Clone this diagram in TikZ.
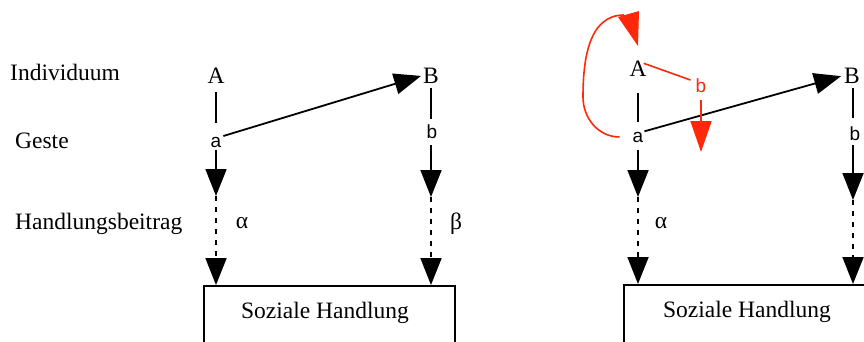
\documentclass[tikz,border=0pt]{standalone}
\usepackage{fontspec}
\setmainfont{Liberation Serif}
\newfontfamily\sansf{Liberation Sans}
\usetikzlibrary{arrows.meta}
\definecolor{redline}{RGB}{255,40,10}
\tikzset{
  lbl/.style={font=\fontsize{23.5}{27}\selectfont, inner sep=0pt, anchor=base},
  sml/.style={font=\sansf\fontsize{19}{22}\selectfont, inner sep=0pt, anchor=base},
  ln/.style={line width=1.8pt},
  arr/.style={line width=1.8pt, -{Triangle[length=27pt,width=21pt]}},
  dsh/.style={dash pattern=on 5pt off 6pt},
  redl/.style={line width=1.6pt, draw=redline},
  redarr/.style={line width=1.6pt, draw=redline, -{Triangle[length=31pt,width=21pt,fill=redline]}},
  boxst/.style={draw, line width=1.6pt, inner sep=0pt, anchor=north west}
}
\begin{document}
\begin{tikzpicture}[x=1pt,y=-1pt]
\useasboundingbox (0,0) rectangle (864,341);
\clip (0,0) rectangle (864,341);
% row labels
\node[lbl, anchor=base west] (ind) at (10,80) {Individuum};
\node[lbl, anchor=base west] (ges) at (15,148) {Geste};
\node[lbl, anchor=base west] (hb) at (15,229) {Handlungsbeitrag};
% ---------- left panel ----------
\node[lbl] (A1) at (216,83) {A};
\node[lbl] (B1) at (431,83) {B};
\node[sml] (a1) at (216,147) {a};
\node[sml] (b1) at (432,138) {b};
\node[lbl] (al1) at (242,228) {α};
\node[lbl] (be1) at (456,229) {β};
\node[boxst, minimum width=251pt, minimum height=90pt] (box1) at (203,285) {};
\node[lbl] (sh1) at (325,318) {Soziale Handlung};
\coordinate (h1) at (216,196);
\coordinate (h2) at (431,197);
\draw[ln, shorten <=9pt, shorten >=14pt] (A1.south) -- (a1.north);
\draw[arr, shorten <=3pt] (a1.south) -- (h1);
\draw[arr, dsh] (h1) -- (h1 |- box1.north);
\draw[arr, shorten <=2pt, shorten >=2pt] (a1.north east) -- (B1.west);
\draw[ln, shorten <=5pt, shorten >=5pt] (B1.south -| h2) -- (b1.north -| h2);
\draw[arr, shorten <=7pt] (b1.south -| h2) -- (h2);
\draw[arr, dsh] (h2) -- (h2 |- box1.north);
% ---------- right panel ----------
\node[lbl] (A2) at (638,76) {A};
\node[lbl] (B2) at (852,83) {B};
\node[sml] (a2) at (638,142) {a};
\node[sml] (b2) at (855,140) {b};
\node[lbl] (al2) at (661,228) {α};
\node[lbl] (be2) at (871,229) {β};
\node[boxst, minimum width=300pt, minimum height=90pt] (box2) at (623,284) {};
\node[lbl] (sh2) at (747,317) {Soziale Handlung};
\coordinate (h3) at (638,197);
\coordinate (h4) at (853,200);
\draw[ln, shorten <=17pt, shorten >=10pt] (A2.south) -- (a2.north);
\draw[arr, shorten <=8pt] (a2.south) -- (h3);
\draw[arr, dsh] (h3) -- (h3 |- box2.north);
\draw[arr, shorten <=1pt, shorten >=3pt] (a2.north east) -- (B2.west);
\draw[ln, shorten <=5pt, shorten >=8pt] (B2.south -| h4) -- (b2.north -| h4);
\draw[arr, shorten <=5pt] (b2.south -| h4) -- (h4);
\draw[arr, dsh] (h4) -- (h4 |- box2.north);
% red additions
\node[sml, text=redline] (rb) at (701,92) {b};
\coordinate (rh) at (701,152);
\coordinate (rt) at (638,46);
\coordinate (rl) at (583,97);
\coordinate (rtop) at (624,15);
\draw[redl] (A2.north east) ++(-3,3) -- ([xshift=-5pt,yshift=-2pt]rb.north west);
\draw[redarr, shorten <=8pt] (rb.south) -- (rh);
\draw[redl] (a2.west) ++(-13,0) to[out=180,in=-90] (rl) to[out=90,in=180] (rtop);
\fill[redline] (618,17) -- (639,11) -- (rt) -- cycle;
\end{tikzpicture}
\end{document}
